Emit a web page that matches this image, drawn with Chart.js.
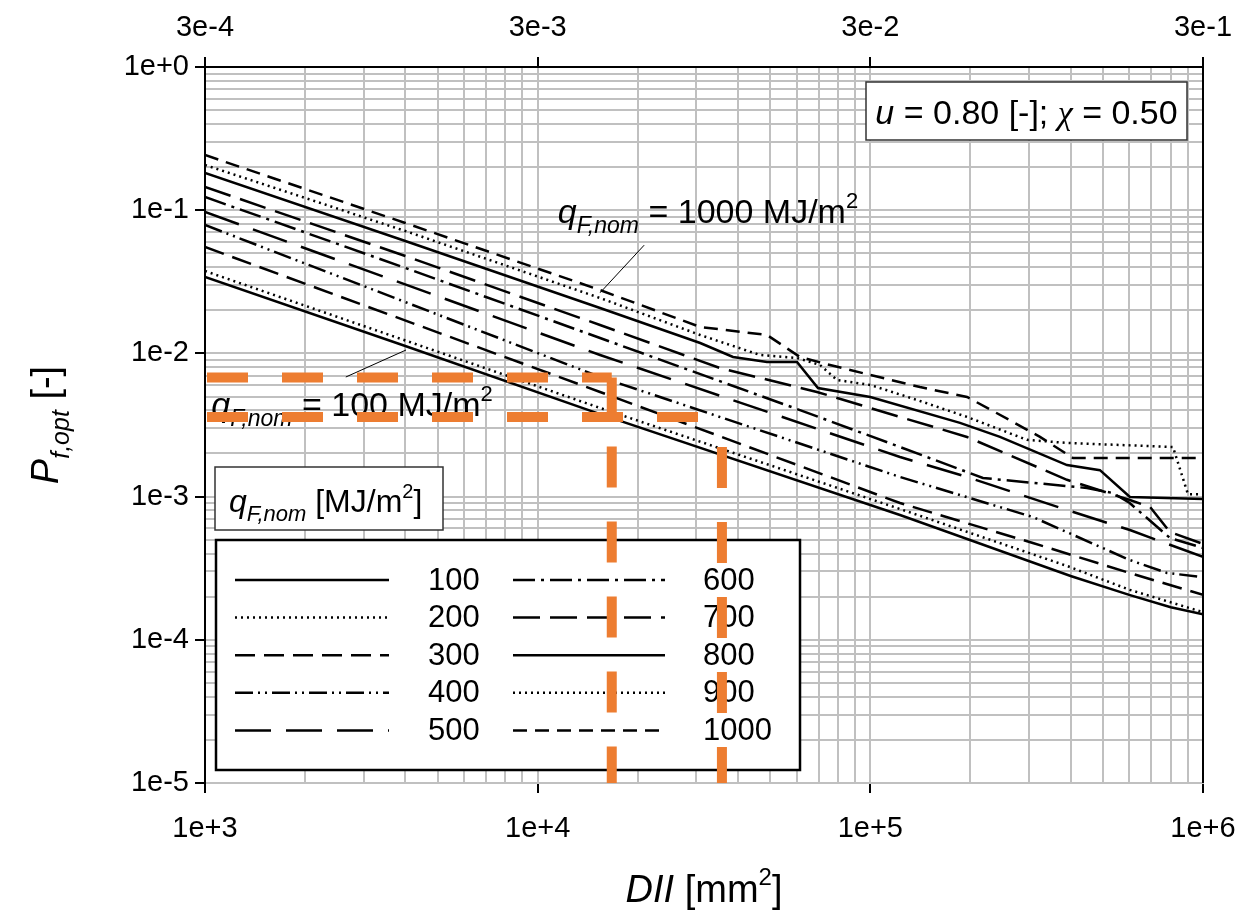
<!DOCTYPE html>
<html>
<head>
<meta charset="utf-8">
<script src="https://cdn.jsdelivr.net/npm/chart.js@4.4.1/dist/chart.umd.min.js"></script>
<style>
  html, body { margin: 0; padding: 0; background: #fff; }
  #wrap { width: 1239px; height: 918px; }
</style>
</head>
<body>
<div id="wrap"><canvas id="chart" width="1239" height="918"></canvas></div>
<script>
// Nominal fire load densities q_F,nom [MJ/m²], one curve each
const fireLoads = [100, 200, 300, 400, 500, 600, 700, 800, 900, 1000];

// DII [mm²] and optimal failure probability P_f,opt [-] along each curve
const dii100 = [1000, 4000, 15400, 122800, 400000, 600000, 800000, 1000000];
const pf100  = [0.0342, 0.01126, 0.00377, 0.000744, 0.000279, 0.000206, 0.000169, 0.000151];

const dii200 = [1000, 15400, 122800, 390000, 603000, 1000000];
const pf200  = [0.0376, 0.00416, 0.000819, 0.000328, 0.000223, 0.000156];

const dii300 = [1000, 15400, 122800, 308000, 602000, 1000000];
const pf300  = [0.0553, 0.00538, 0.000902, 0.000474, 0.000293, 0.000206];

const dii400 = [1000, 15400, 122800, 308000, 602000, 779000, 1000000];
const pf400  = [0.0788, 0.00684, 0.001371, 0.000720, 0.000361, 0.000293, 0.000274];

const dii500 = [1000, 15400, 122800, 195300, 390000, 603000, 1000000];
const pf500  = [0.0971, 0.00975, 0.00189, 0.001371, 0.000806, 0.000584, 0.000379];

const dii600 = [1000, 4000, 15400, 61450, 122800, 218000, 448000, 536000, 602000, 795700, 1000000];
const pf600  = [0.1237, 0.0395, 0.01281, 0.00402, 0.00222, 0.001349, 0.001148, 0.001059, 0.000902, 0.000514, 0.000438];

const dii700 = [1000, 4000, 15400, 35300, 69100, 122800, 195300, 390000, 603000, 693000, 795700, 1000000];
const pf700  = [0.1452, 0.0479, 0.01579, 0.00791, 0.00538, 0.00360, 0.00261, 0.00131, 0.000947, 0.000846, 0.000566, 0.000467];

const dii800 = [1000, 4000, 15400, 30800, 38660, 48900, 60200, 69600, 100000, 186000, 245300, 390000, 490000, 603000, 1000000];
const pf800  = [0.1819, 0.0609, 0.02075, 0.01182, 0.00944, 0.00871, 0.00871, 0.00573, 0.00496, 0.00327, 0.00261, 0.00166, 0.00153, 0.000994, 0.000962];

const dii900 = [1000, 4000, 15400, 30800, 46600, 60200, 70600, 79400, 100000, 138100, 195300, 295800, 390000, 812500, 901000, 1000000];
const pf900  = [0.2068, 0.0716, 0.02437, 0.01344, 0.00975, 0.00929, 0.00830, 0.00652, 0.00602, 0.00473, 0.00360, 0.00249, 0.00237, 0.00222, 0.00104, 0.00104];

const dii1000 = [1000, 4000, 15400, 30800, 48900, 61450, 75620, 100000, 141000, 195300, 268500, 323600, 406700, 1000000];
const pf1000  = [0.2429, 0.0814, 0.0277, 0.01529, 0.01344, 0.00944, 0.00830, 0.00707, 0.00582, 0.00496, 0.00332, 0.00261, 0.00186, 0.00186];

// Read-off guide lines: target probabilities and the DII where they are met
const guideP   = [0.0068, 0.0036];
const guideDII = [16700, 35800];

// Axis ticks
const xTickRange = [1e3, 1e6];
const yTickRange = [1e-5, 1e0];
const topTicks = [3e-4, 3e-3, 3e-2, 3e-1];

// Line styles per curve (dash patterns)
const dashes = {
  100: [], 200: [2, 4], 300: [20, 9], 400: [18, 5, 2, 5, 2, 5], 500: [36, 15],
  600: [22, 6, 3, 6], 700: [27, 10], 800: [], 900: [2, 4], 1000: [14, 8]
};
// Dash phase of each guide line: horizontal leg, vertical leg
const guideDashOffset = [[73, 6], [73, 45]];

const seriesX = [dii100, dii200, dii300, dii400, dii500, dii600, dii700, dii800, dii900, dii1000];
const seriesY = [pf100, pf200, pf300, pf400, pf500, pf600, pf700, pf800, pf900, pf1000];

const FONT = '"Liberation Sans", Arial, sans-serif';
const SERIF = '"Liberation Serif", "DejaVu Serif", serif';
const GRID = '#c0c0c0';
const ORANGE = '#ED7D31';

const isDecade = v => Math.abs(Math.log10(v) - Math.round(Math.log10(v))) < 1e-6;
function logGridValues([min, max]) {
  const out = [];
  const e0 = Math.round(Math.log10(min)), e1 = Math.round(Math.log10(max));
  for (let e = e0; e < e1; e++) for (let m = 1; m <= 9; m++) out.push(Number(m + 'e' + e));
  out.push(Number('1e' + e1));
  return out;
}

const curveSets = fireLoads.map((q, i) => ({
  label: String(q),
  data: seriesX[i].map((x, k) => ({ x, y: seriesY[i][k] })),
  borderColor: '#000',
  borderWidth: 2.5,
  borderDash: dashes[q],
  borderCapStyle: 'butt',
  pointRadius: 0,
  tension: 0,
  fill: false,
  order: 1
}));

const guideStyle = {
  borderColor: ORANGE, borderWidth: 10, borderDash: [41, 34], borderCapStyle: 'butt',
  pointRadius: 0, tension: 0, fill: false, order: 0
};
const guideSets = [];
guideP.forEach((p, i) => {
  guideSets.push({ ...guideStyle, label: 'guideH' + i, borderDashOffset: guideDashOffset[i][0],
    data: [{ x: xTickRange[0], y: p }, { x: guideDII[i], y: p }] });
  guideSets.push({ ...guideStyle, label: 'guideV' + i, borderDashOffset: guideDashOffset[i][1],
    data: [{ x: guideDII[i], y: p }, { x: guideDII[i], y: yTickRange[0] }] });
});

// Rich text helpers (italics, sub- and superscripts)
function fontOf(p) { return (p.i ? 'italic ' : '') + p.s + 'px ' + (p.f || FONT); }
function richWidth(ctx, parts) {
  let w = 0;
  for (const p of parts) { ctx.font = fontOf(p); w += ctx.measureText(p.t).width; }
  return w;
}
function drawRich(ctx, x, y, parts, align) {
  let cx = align === 'center' ? x - richWidth(ctx, parts) / 2 : x;
  ctx.textAlign = 'left';
  ctx.textBaseline = 'alphabetic';
  for (const p of parts) {
    ctx.font = fontOf(p);
    ctx.fillText(p.t, cx, y + (p.dy || 0));
    cx += ctx.measureText(p.t).width;
  }
}

// Callout labels placed in data coordinates
const callouts = [
  { at: [11500, 0.0814], line: [[20900, 0.057], [15400, 0.0265]],
    parts: [{ t: 'q', i: 1, s: 34 }, { t: 'F,nom', i: 1, s: 23, dy: 10 }, { t: ' = 1000 MJ/m', s: 34 }, { t: '2', s: 22, dy: -15 }] },
  { at: [1045, 0.00366], line: [[2650, 0.00684], [4020, 0.01056]],
    parts: [{ t: 'q', i: 1, s: 34 }, { t: 'F,nom', i: 1, s: 23, dy: 10 }, { t: ' = 100 MJ/m', s: 34 }, { t: '2', s: 22, dy: -15 }] }
];

const decor = {
  id: 'decor',
  beforeDatasetsDraw(chart) {
    const { ctx, scales } = chart;
    const xs = scales.x, ys = scales.y;
    ctx.save();

    // Callout texts and leader lines
    ctx.fillStyle = '#000';
    for (const c of callouts) {
      drawRich(ctx, xs.getPixelForValue(c.at[0]), ys.getPixelForValue(c.at[1]), c.parts);
      ctx.beginPath();
      ctx.strokeStyle = '#000';
      ctx.lineWidth = 1;
      ctx.moveTo(xs.getPixelForValue(c.line[0][0]), ys.getPixelForValue(c.line[0][1]));
      ctx.lineTo(xs.getPixelForValue(c.line[1][0]), ys.getPixelForValue(c.line[1][1]));
      ctx.stroke();
    }

    // Parameter box, top right
    const bx = 866, by = 82, bw = 321, bh = 58;
    ctx.fillStyle = '#fff';
    ctx.fillRect(bx, by, bw, bh);
    ctx.strokeStyle = '#333';
    ctx.lineWidth = 1.5;
    ctx.strokeRect(bx, by, bw, bh);
    ctx.fillStyle = '#000';
    drawRich(ctx, bx + bw / 2, by + 42, [
      { t: 'u', i: 1, s: 34 }, { t: ' = 0.80 [-]; ', s: 34 },
      { t: 'χ', i: 1, s: 34, f: SERIF }, { t: ' = 0.50', s: 34 }
    ], 'center');

    // Legend title box
    const tx = 215, ty = 467, tw = 228, th = 63;
    ctx.fillStyle = '#fff';
    ctx.fillRect(tx, ty, tw, th);
    ctx.strokeStyle = '#333';
    ctx.lineWidth = 1.5;
    ctx.strokeRect(tx, ty, tw, th);
    ctx.fillStyle = '#000';
    drawRich(ctx, tx + 14, ty + 45, [
      { t: 'q', i: 1, s: 32 }, { t: 'F,nom', i: 1, s: 22, dy: 9 },
      { t: ' [MJ/m', s: 32 }, { t: '2', s: 20, dy: -14 }, { t: ']', s: 32 }
    ]);

    // Legend box with line samples
    const lx = 216, ly = 540, lw = 584, lh = 230;
    ctx.fillStyle = '#fff';
    ctx.fillRect(lx, ly, lw, lh);
    ctx.strokeStyle = '#000';
    ctx.lineWidth = 2.5;
    ctx.strokeRect(lx, ly, lw, lh);
    const cols = [{ x0: 235, x1: 389, tx: 428 }, { x0: 513, x1: 665, tx: 703 }];
    chart.data.datasets.slice(0, fireLoads.length).forEach((ds, i) => {
      const col = cols[Math.floor(i / 5)];
      const y = 580 + (i % 5) * 37.6;
      ctx.beginPath();
      ctx.setLineDash(ds.borderDash);
      ctx.strokeStyle = '#000';
      ctx.lineWidth = ds.borderWidth;
      ctx.moveTo(col.x0, y);
      ctx.lineTo(col.x1, y);
      ctx.stroke();
      ctx.setLineDash([]);
      ctx.font = '31px ' + FONT;
      ctx.fillStyle = '#000';
      ctx.textAlign = 'left';
      ctx.textBaseline = 'middle';
      ctx.fillText(ds.label, col.tx, y + 1);
    });
    ctx.restore();
  },
  afterDatasetsDraw(chart) {
    const { ctx, chartArea: a } = chart;
    ctx.save();
    ctx.strokeStyle = '#000';
    ctx.lineWidth = 2;
    ctx.beginPath();
    ctx.moveTo(a.right, a.top);
    ctx.lineTo(a.right, a.bottom);
    ctx.stroke();
    ctx.restore();
  },
  afterDraw(chart) {
    const { ctx, chartArea: a } = chart;
    ctx.save();
    ctx.fillStyle = '#000';
    // Axis titles
    drawRich(ctx, (a.left + a.right) / 2, 902, [
      { t: 'DII', i: 1, s: 38 }, { t: ' [mm', s: 38 }, { t: '2', s: 24, dy: -17 }, { t: ']', s: 38 }
    ], 'center');
    ctx.translate(58, (a.top + a.bottom) / 2);
    ctx.rotate(-Math.PI / 2);
    drawRich(ctx, 0, 0, [
      { t: 'P', i: 1, s: 38 }, { t: 'f,opt', i: 1, s: 25, dy: 11 }, { t: ' [-]', s: 38 }
    ], 'center');
    ctx.restore();
  }
};

const tickFont = { family: FONT, size: 29 };

new Chart(document.getElementById('chart'), {
  type: 'line',
  data: { datasets: [...curveSets, ...guideSets] },
  options: {
    responsive: false,
    animation: false,
    devicePixelRatio: 1,
    layout: { padding: { left: 0, right: 36, top: 0, bottom: 0 } },
    plugins: { legend: { display: false }, tooltip: { enabled: false } },
    scales: {
      x: {
        type: 'logarithmic', position: 'bottom',
        min: xTickRange[0], max: xTickRange[1],
        afterBuildTicks: s => { s.ticks = logGridValues(xTickRange).map(v => ({ value: v })); },
        afterFit: s => { s.height = 135; s.paddingLeft = 0; s.paddingRight = 0; },
        ticks: {
          autoSkip: false, maxRotation: 0, color: '#000', font: tickFont, padding: 19,
          callback: v => isDecade(v) ? Number(v).toExponential(0) : ''
        },
        grid: {
          color: GRID, lineWidth: 2, tickLength: 10, tickWidth: 2,
          tickColor: c => (c.tick && isDecade(c.tick.value)) ? '#000' : 'rgba(0,0,0,0)'
        },
        border: { color: GRID, width: 2 }
      },
      x2: {
        type: 'logarithmic', position: 'top',
        min: topTicks[0], max: topTicks[topTicks.length - 1],
        afterBuildTicks: s => { s.ticks = topTicks.map(v => ({ value: v })); },
        afterFit: s => { s.height = 67; s.paddingLeft = 0; s.paddingRight = 0; },
        ticks: {
          autoSkip: false, maxRotation: 0, color: '#000', font: tickFont, padding: 12,
          callback: v => Number(v).toExponential(0)
        },
        grid: { drawOnChartArea: false, color: '#000', lineWidth: 2, tickLength: 10 },
        border: { color: '#000', width: 2 }
      },
      y: {
        type: 'logarithmic', position: 'left',
        min: yTickRange[0], max: yTickRange[1],
        afterBuildTicks: s => { s.ticks = logGridValues(yTickRange).map(v => ({ value: v })); },
        afterFit: s => { s.width = 205; },
        ticks: {
          autoSkip: false, color: '#000', font: tickFont, padding: 6,
          callback: v => isDecade(v) ? Number(v).toExponential(0) : ''
        },
        grid: {
          color: GRID, lineWidth: 2, tickLength: 10, tickWidth: 2,
          tickColor: c => (c.tick && isDecade(c.tick.value)) ? '#000' : 'rgba(0,0,0,0)'
        },
        border: { color: '#000', width: 2 }
      }
    }
  },
  plugins: [decor]
});
</script>
</body>
</html>
